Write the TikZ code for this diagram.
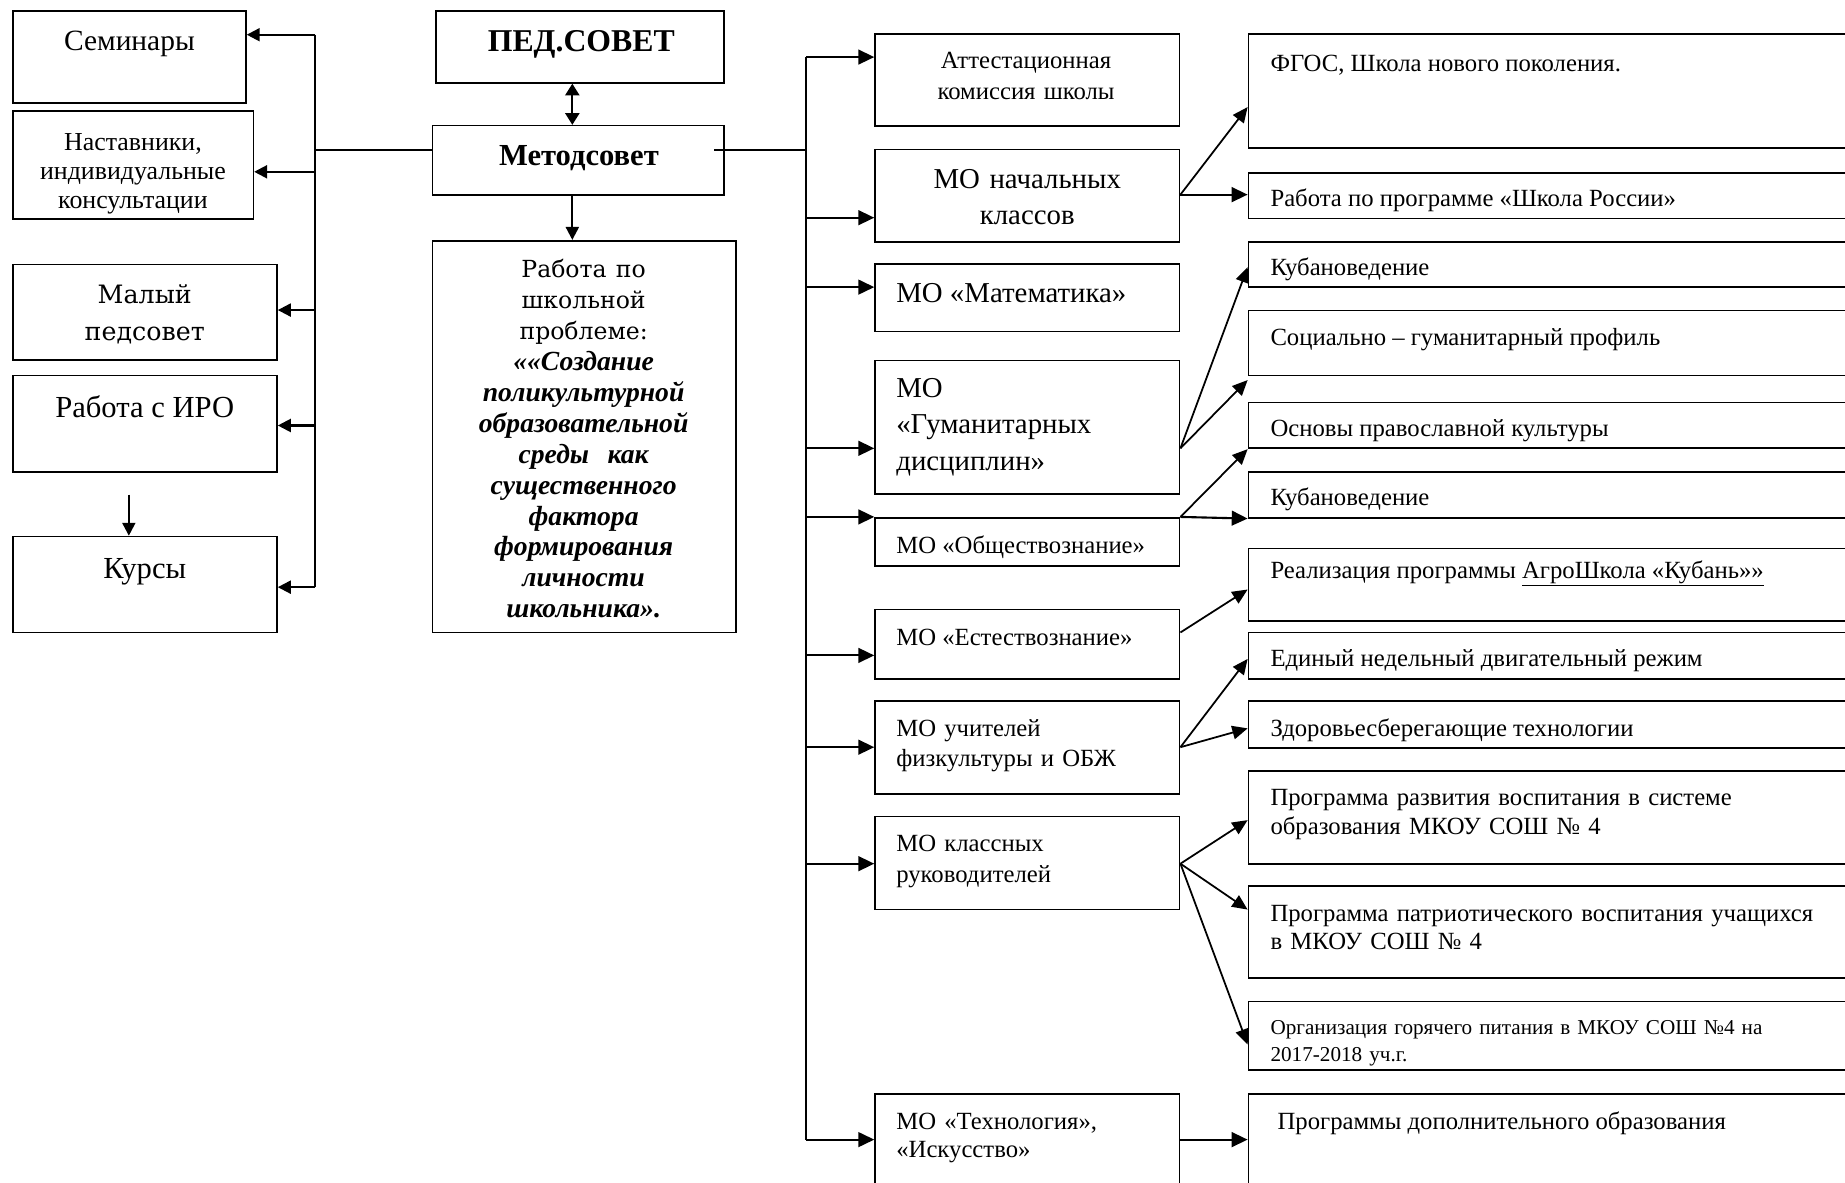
\documentclass[tikz,border=0pt]{standalone}
\usepackage{fontspec}
\setmainfont{Liberation Serif}
\newfontfamily\bookfont{DejaVu Serif}
\usetikzlibrary{arrows.meta,fit}
\tikzset{every picture/.style={line width=1.5pt}}
\tikzset{
  box/.style={draw, line width=1.4pt, inner sep=0pt},
  txt/.style={inner sep=0pt, yshift=-5.5pt},
  arr/.style={-{Triangle[length=13.5pt,width=12.5pt]}, line width=1.8pt},
  larr/.style={-{Triangle[length=11pt,width=11pt]}, line width=1.8pt},
  darr/.style={{Triangle[length=10pt,width=12pt]}-{Triangle[length=10pt,width=12pt]}, line width=1.8pt},
  slant/.style={-{Triangle[length=13pt,width=11.5pt]}, line width=1.5pt},
  fR/.style={txt, font=\fontsize{21}{24}\selectfont},
  fB/.style={txt, font=\fontsize{24.5}{31}\selectfont},
  fC/.style={txt, font=\fontsize{21}{26}\selectfont}
}
\begin{document}
\begin{tikzpicture}[x=1pt,y=-1pt]
\useasboundingbox (0,0) rectangle (1568,1005);
%
\node[box, fit={(11,9.4) (209,87.7)}] (sem) {};
\node[box, fit={(11,94.3) (215.3,186.2)}] (nast) {};
\node[box, fit={(11,224.7) (235.4,306)}] (mal) {};
\node[box, fit={(11,319) (235.4,401)}] (iro) {};
\node[box, fit={(11,456) (235.4,537.4)}] (kur) {};
\node[txt, font=\fontsize{25}{28}\selectfont, anchor=mid] (sem-t) at (110,35) {Семинары};
\node[txt, font=\fontsize{22}{24.5}\selectfont, text width=200pt, align=center, anchor=mid] (nast-t) at (113,120) {Наставники,\\индивидуальные\\консультации};
\node[txt, font=\bookfont\fontsize{21.5}{32}\selectfont, text width=200pt, align=center, anchor=mid] (mal-t) at (123,250) {Малый\\педсовет};
\node[txt, font=\fontsize{26}{30}\selectfont, anchor=mid] (iro-t) at (123,347) {Работа с ИРО};
\node[txt, font=\fontsize{26}{30}\selectfont, anchor=mid] (kur-t) at (123,484) {Курсы};
%
\node[box, fit={(370.5,9.4) (615.5,70.4)}] (ped) {};
\node[box, fit={(367.7,106.8) (615.5,165.7)}] (met) {};
\node[box, fit={(367.7,204.6) (625.5,537.4)}] (rab) {};
\node[txt, font=\bfseries\fontsize{27}{30}\selectfont, anchor=mid] (ped-t) at (494,36) {ПЕД.СОВЕТ};
\node[txt, font=\bfseries\fontsize{26}{30}\selectfont, anchor=mid] (met-t) at (492,133) {Методсовет};
\node[txt, font=\fontsize{23.5}{26.3}\selectfont, text width=250pt, align=center, anchor=mid] (rab-t) at (496,228)
  {{\bookfont\fontsize{20}{26.3}\selectfont Работа по\\школьной\\проблеме:}\\
   {\bfseries\itshape ««Создание\\поликультурной\\образовательной\\среды~ как\\существенного\\фактора\\формирования\\личности\\школьника».}};
%
\node[box, fit={(743.7,28.8) (1002.5,107.2)}] (att) {};
\node[box, fit={(743.7,127) (1002.5,205.4)}] (nach) {};
\node[box, fit={(743.7,224.5) (1002.5,281.6)}] (mat) {};
\node[box, fit={(743.7,306.5) (1002.5,420)}] (gum) {};
\node[box, fit={(743.7,440) (1002.5,481)}] (obsh) {};
\node[box, fit={(743.7,518) (1002.5,577)}] (est) {};
\node[box, fit={(743.7,596) (1002.5,675)}] (fiz) {};
\node[box, fit={(743.7,694) (1002.5,773)}] (kl) {};
\node[box, fit={(743.7,929.6) (1002.5,1020)}] (tech) {};
\node[txt, font=\fontsize{21}{27}\selectfont, text width=250pt, align=center, anchor=mid] (att-t) at (872,50) {Аттестационная\\комиссия школы};
\node[fB, text width=250pt, align=center, anchor=mid] (nach-t) at (873,152) {МО начальных\\классов};
\node[fB, anchor=mid west] (mat-t) at (761,249) {МО «Математика»};
\node[fB, text width=240pt, align=left, anchor=mid west] (gum-t) at (761,330) {МО\\«Гуманитарных\\дисциплин»};
\node[fC, anchor=mid west] (obsh-t) at (761,463) {МО «Обществознание»};
\node[fC, anchor=mid west] (est-t) at (761,541) {МО «Естествознание»};
\node[fC, text width=240pt, align=left, anchor=mid west] (fiz-t) at (761,618) {МО учителей\\физкультуры и ОБЖ};
\node[fC, text width=240pt, align=left, anchor=mid west] (kl-t) at (761,716) {МО классных\\руководителей};
\node[txt, font=\fontsize{21}{23.5}\selectfont, text width=240pt, align=left, anchor=mid west] (tech-t) at (761,952) {МО «Технология»,\\«Искусство»};
%
\node[box, fit={(1061,28.8) (1600,125.9)}] (fgos) {};
\node[box, fit={(1061,147) (1600,185.7)}] (shr) {};
\node[box, fit={(1061,205.4) (1600,244)}] (kub1) {};
\node[box, fit={(1061,264) (1600,319)}] (soc) {};
\node[box, fit={(1061,342) (1600,381)}] (osn) {};
\node[box, fit={(1061,401) (1600,440)}] (kub2) {};
\node[box, fit={(1061,466) (1600,528)}] (real) {};
\node[box, fit={(1061,537.6) (1600,577)}] (edin) {};
\node[box, fit={(1061,596) (1600,635.6)}] (zdor) {};
\node[box, fit={(1061,655) (1600,734)}] (prr) {};
\node[box, fit={(1061,753) (1600,831)}] (pat) {};
\node[box, fit={(1061,851) (1600,909.5)}] (org) {};
\node[box, fit={(1061,929.6) (1600,1020)}] (dop) {};
\node[fR, anchor=mid west] (fgos-t) at (1079,53) {ФГОС, Школа нового поколения.};
\node[fR, anchor=mid west] (shr-t) at (1079,168) {Работа по программе «Школа России»};
\node[fR, anchor=mid west] (kub1-t) at (1079,226) {Кубановедение};
\node[fR, anchor=mid west] (soc-t) at (1079,286) {Социально – гуманитарный профиль};
\node[fR, anchor=mid west] (osn-t) at (1079,363) {Основы православной культуры};
\node[fR, anchor=mid west] (kub2-t) at (1079,422) {Кубановедение};
\node[fR, anchor=mid west] (real-t) at (1079,484) {Реализация программы \underline{АгроШкола «Кубань»»}};
\node[fR, anchor=mid west] (edin-t) at (1079,559) {Единый недельный двигательный режим};
\node[fR, anchor=mid west] (zdor-t) at (1079,618) {Здоровьесберегающие технологии};
\node[fR, text width=480pt, align=left, anchor=mid west] (prr-t) at (1079,677) {Программа развития воспитания в системе\\образования МКОУ СОШ № 4};
\node[fR, text width=480pt, align=left, anchor=mid west] (pat-t) at (1079,775) {Программа патриотического воспитания учащихся\\в МКОУ СОШ № 4};
\node[txt, font=\fontsize{18}{23}\selectfont, text width=480pt, align=left, anchor=mid west] (org-t) at (1079,871) {Организация горячего питания в МКОУ СОШ №4 на\\2017-2018 уч.г.};
\node[fR, anchor=mid west] (dop-t) at (1085,952) {Программы дополнительного образования};
%
\coordinate (lt) at (268,29.5);
\coordinate (lb) at (268,499);
\coordinate (lj) at (268,127.3);
\coordinate (rt) at (685,48.5);
\coordinate (rb) at (685,968.5);
\coordinate (rj) at (685,127.3);
\draw[line width=1.6pt] (lt) -- (lb);
\draw[line width=1.6pt] (rt) -- (rb);
\draw[line width=1.5pt] (lj) -- (met.west |- lj);
\draw[line width=1.5pt] (met.east |- rj) ++(-9,0) -- (rj);
\draw[larr] (lt) -- (sem.east |- lt);
\draw[larr] (lt |- 0,146) -- (nast.east |- 0,146);
\draw[larr] (lt |- 0,263.5) -- (mal.east |- 0,263.5);
\draw[larr] (lt |- 0,361.6) -- (iro.east |- 0,361.6);
\draw[larr] (lb) -- (kur.east |- lb);
\draw[larr] (kur.north -| 109.5,0) ++(0,-35) -- (kur.north -| 109.5,0);
\draw[darr] (ped.south -| 486.4,0) -- (met.north -| 486.4,0);
\draw[larr] (met.south -| 486.4,0) -- (rab.north -| 486.4,0);
%
\draw[arr] (rt) -- (att.west |- rt);
\draw[arr] (rt |- 0,185) -- (nach.west |- 0,185);
\draw[arr] (rt |- 0,244) -- (mat.west |- 0,244);
\draw[arr] (rt |- 0,381) -- (gum.west |- 0,381);
\draw[arr] (rt |- obsh.north) -- (obsh.north west);
\draw[arr] (rt |- 0,557) -- (est.west |- 0,557);
\draw[arr] (rt |- 0,635) -- (fiz.west |- 0,635);
\draw[arr] (rt |- 0,734) -- (kl.west |- 0,734);
\draw[arr] (rb) -- (tech.west |- rb);
%
\draw[slant] (nach.east |- 0,165.4) -- (fgos.west |- 0,91);
\draw[arr] (nach.east |- 0,165.4) -- (shr.west |- 0,165.4);
\draw[slant] (gum.east |- 0,381) -- (kub1.west |- 0,227);
\draw[slant] (gum.east |- 0,381) -- (soc.west |- 0,323);
\draw[slant] (obsh.north east) -- (osn.south west);
\draw[arr] (obsh.north east) -- (kub2.south west);
\draw[slant] (est.east |- 0,537.5) -- (real.west |- 0,501);
\draw[slant] (fiz.east |- 0,635) -- (edin.west |- 0,560);
\draw[slant] (fiz.east |- 0,635) -- (zdor.west |- 0,619);
\draw[slant] (kl.east |- 0,734) -- (prr.west |- 0,697);
\draw[slant] (kl.east |- 0,734) -- (pat.west |- 0,773);
\draw[slant] (kl.east |- 0,734) -- (org.west |- 0,887.6);
\draw[arr] (tech.east |- rb) -- (dop.west |- rb);
\end{tikzpicture}
\end{document}
